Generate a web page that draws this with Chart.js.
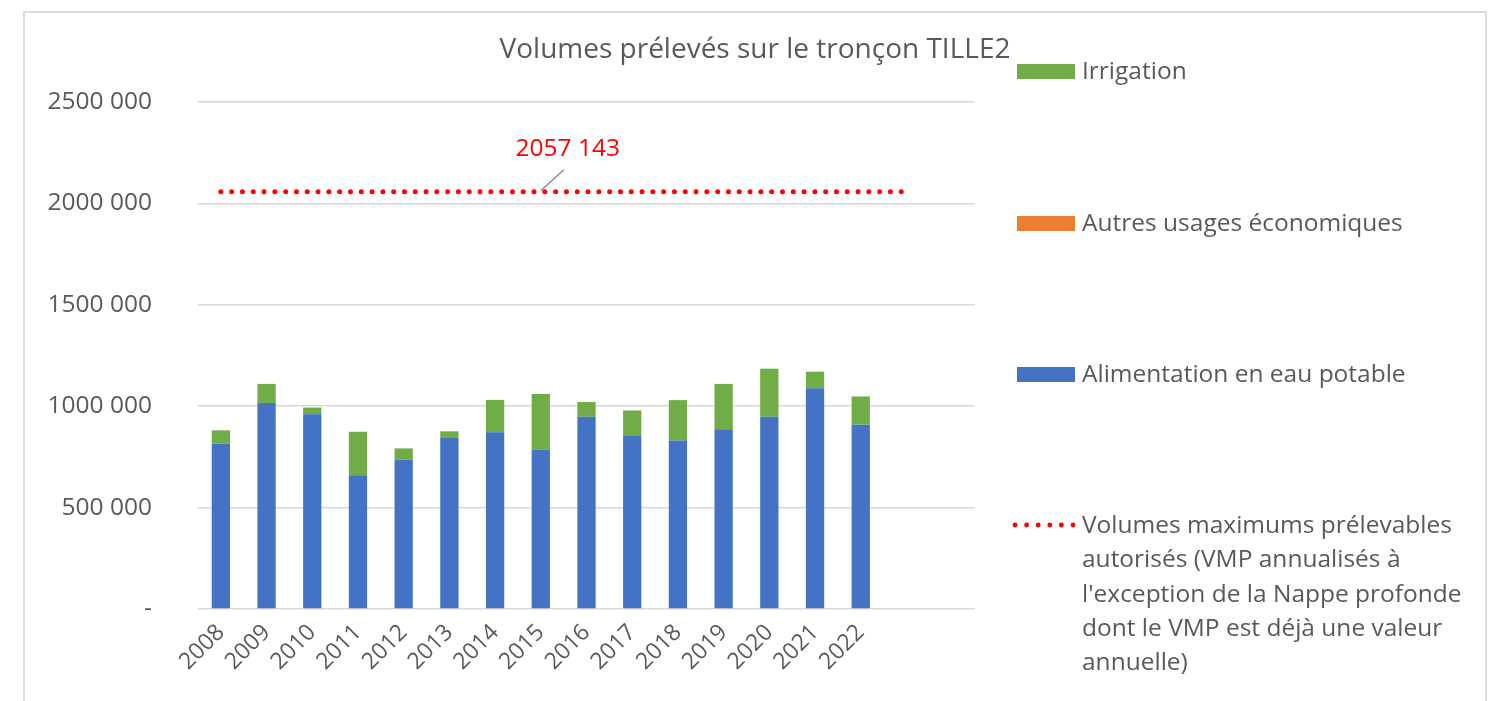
<!DOCTYPE html>
<html>
<head>
<meta charset="utf-8">
<script src="https://cdn.jsdelivr.net/npm/chart.js@4.4.1/dist/chart.umd.min.js"></script>
<style>
    html, body { margin: 0; padding: 0; background: #fff; overflow: hidden; }
    #frame { position: absolute; left: 23px; top: 11px; width: 1460px; height: 720px; border: 2px solid #dcdcdc; }
    #wrap { position: absolute; left: 0; top: 0; width: 1497px; height: 701px; }
</style>
</head>
<body>
<div id="frame"></div>
<div id="wrap"><canvas id="volumes"></canvas></div>
<script>
// data
var years = ['2008', '2009', '2010', '2011', '2012', '2013', '2014', '2015', '2016', '2017', '2018', '2019', '2020', '2021', '2022', '', ''];
var aep = [815000, 1016000, 960000, 659000, 736000, 843000, 871000, 787000, 948000, 853000, 831000, 886000, 948000, 1088000, 909000];
var autres = [0, 0, 0, 0, 0, 0, 0, 0, 0, 0, 0, 0, 0, 0, 0];
var irrigation = [66000, 94000, 33000, 215000, 56000, 33000, 160000, 273000, 73000, 126000, 199000, 224000, 237000, 82000, 139000];
var vmp = [2057143, 2057143, 2057143, 2057143, 2057143, 2057143, 2057143, 2057143, 2057143, 2057143, 2057143, 2057143, 2057143, 2057143, 2057143, 2057143];
var vmpLabelIndex = 7;
var yTicks = [0, 500000, 1000000, 1500000, 2000000, 2500000];

var titleText = 'Volumes prélevés sur le tronçon TILLE2';
var vmpLines = ["Volumes maximums prélevables", "autorisés (VMP annualisés à", "l'exception de la Nappe profonde", "dont le VMP est déjà une valeur", "annuelle)"];

var grey = '#595959';
var font = 'Open Sans';

// "2500 000" style used in the reference
function fmt(v) {
    if (v === 0) return '-';
    var k = Math.floor(v / 1000);
    var r = String(Math.round(v % 1000));
    while (r.length < 3) r = '0' + r;
    return k + ' ' + r;
}

var extras = {
    id: 'extras',
    afterDraw: function (chart) {
        var c = chart.ctx;
        var xs = chart.scales.x, ys = chart.scales.y;
        c.save();

        // title
        c.fillStyle = grey;
        c.font = '28px "' + font + '"';
        c.textAlign = 'center';
        c.textBaseline = 'middle';
        c.fillText(titleText, 755, 50);

        // data label on the VMP line
        var px = xs.getPixelForValue(vmpLabelIndex);
        var py = ys.getPixelForValue(vmp[vmpLabelIndex]);
        c.strokeStyle = '#7f7f7f';
        c.lineWidth = 1.2;
        c.beginPath();
        c.moveTo(px, py - 1);
        c.lineTo(px + 23, py - 22);
        c.stroke();
        c.fillStyle = '#ff0000';
        c.font = '24.5px "' + font + '"';
        c.fillText(fmt(vmp[vmpLabelIndex]), px + 27, py - 43);

        // legend
        var lx = 1017, tx = 1082;
        c.textAlign = 'left';
        c.font = '24.5px "' + font + '"';
        var items = [
            { y: 71, color: '#70ad47', text: 'Irrigation' },
            { y: 223, color: '#ed7d31', text: 'Autres usages économiques' },
            { y: 374, color: '#4472c4', text: 'Alimentation en eau potable' }
        ];
        items.forEach(function (it) {
            c.fillStyle = it.color;
            c.fillRect(lx, it.y - 7, 58, 15);
            c.fillStyle = grey;
            c.fillText(it.text, tx, it.y + 1);
        });
        c.fillStyle = '#ff0000';
        for (var i = 0; i < 6; i++) {
            c.beginPath();
            c.arc(1015 + i * 11.6, 525, 2.4, 0, Math.PI * 2);
            c.fill();
        }
        c.fillStyle = grey;
        vmpLines.forEach(function (t, i) {
            c.fillText(t, tx, 526 + i * 34.3);
        });
        c.restore();
    }
};

var ctx = document.getElementById('volumes').getContext('2d');
var chart = new Chart(ctx, {
    data: {
        labels: years,
        datasets: [
            {
                type: 'line',
                label: vmpLines.join(' '),
                data: vmp,
                stack: 'vmp',
                borderColor: '#ff0000',
                borderWidth: 5,
                borderDash: [0, 10.8],
                borderCapStyle: 'round',
                pointRadius: 0,
                fill: false,
                order: 0
            },
            {
                type: 'bar',
                label: 'Alimentation en eau potable',
                data: aep,
                stack: 'usages',
                backgroundColor: '#4472c4',
                order: 1
            },
            {
                type: 'bar',
                label: 'Autres usages économiques',
                data: autres,
                stack: 'usages',
                backgroundColor: '#ed7d31',
                order: 1
            },
            {
                type: 'bar',
                label: 'Irrigation',
                data: irrigation,
                stack: 'usages',
                backgroundColor: '#70ad47',
                order: 1
            }
        ]
    },
    options: {
        responsive: true,
        maintainAspectRatio: false,
        animation: false,
        datasets: {
            bar: { categoryPercentage: 1, barPercentage: 0.4 }
        },
        layout: {
            padding: { left: 0, right: 522, top: 102, bottom: 0 }
        },
        plugins: {
            legend: { display: false },
            title: { display: false },
            tooltip: { enabled: false }
        },
        scales: {
            x: {
                stacked: true,
                grid: { display: false },
                border: { display: false },
                ticks: {
                    color: grey,
                    font: { family: font, size: 23 },
                    minRotation: 45,
                    maxRotation: 45,
                    padding: 2
                },
                afterFit: function (s) { s.height = 92; }
            },
            y: {
                stacked: true,
                min: 0,
                max: 2500000,
                afterBuildTicks: function (s) {
                    s.ticks = yTicks.map(function (v) { return { value: v }; });
                },
                grid: { color: '#d9d9d9', lineWidth: 1.5, drawTicks: false },
                border: { display: false },
                ticks: {
                    color: grey,
                    font: { family: font, size: 24.5 },
                    padding: 46,
                    callback: function (v) { return fmt(v); }
                },
                afterFit: function (s) { s.width = 198; }
            }
        }
    },
    plugins: [extras]
});
</script>
</body>
</html>
